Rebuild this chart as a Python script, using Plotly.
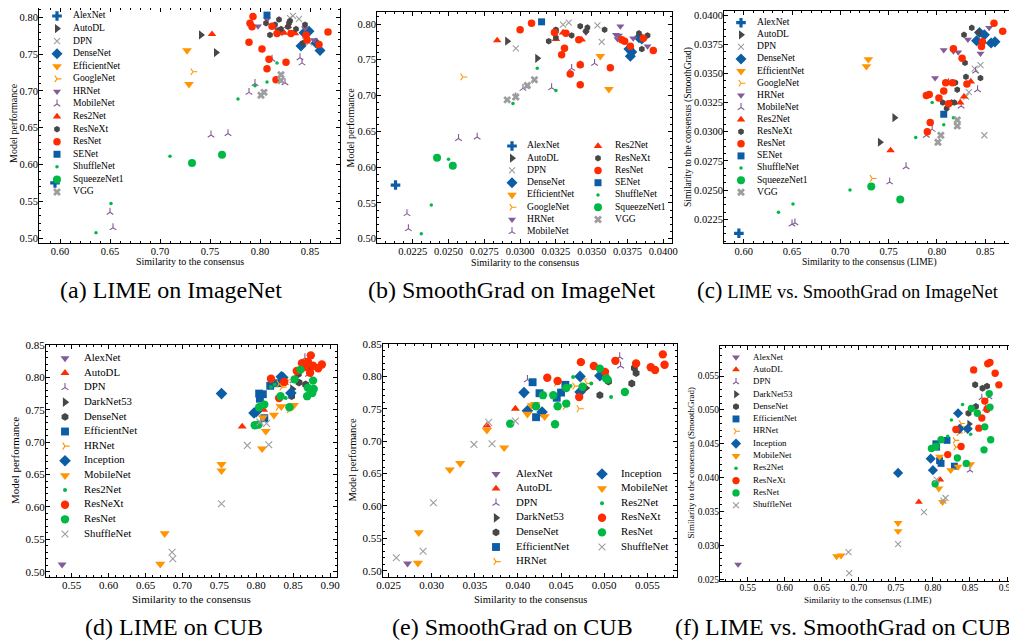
import plotly.graph_objects as go

PAGE_W, PAGE_H = 1017, 642
OFF = 8                      # the page body margin that the browser adds
W, H = PAGE_W - OFF, PAGE_H - OFF
FONT = "Liberation Serif"

BLUE = "#0C5DA5"; GREEN = "#00B945"; ORANGE = "#FF9500"; RED = "#FF2C00"
PURPLE = "#845B97"; DARK = "#474747"; GRAY = "#9E9E9E"

# ---------------- ImageNet data ----------------
IN_FAMILIES = ["AlexNet", "AutoDL", "DPN", "DenseNet", "EfficientNet", "GoogleNet", "HRNet",
               "MobileNet", "Res2Net", "ResNeXt", "ResNet", "SENet", "ShuffleNet",
               "SqueezeNet1", "VGG"]

IN_LIME = {
    "AlexNet": [0.595],
    "AutoDL": [0.741, 0.756],
    "DPN": [0.830, 0.833, 0.839, 0.845, 0.849],
    "DenseNet": [0.841, 0.844, 0.849, 0.856, 0.860],
    "EfficientNet": [0.727, 0.729],
    "GoogleNet": [0.733],
    "HRNet": [0.798, 0.807, 0.817, 0.822, 0.832, 0.845, 0.854],
    "MobileNet": [0.650, 0.653, 0.751, 0.768, 0.789, 0.795, 0.812, 0.825, 0.840, 0.842],
    "Res2Net": [0.752, 0.824, 0.828, 0.835],
    "ResNeXt": [0.806, 0.810, 0.815, 0.818, 0.819, 0.821, 0.828, 0.829, 0.830, 0.836, 0.843, 0.845],
    "ResNet": [0.789, 0.790, 0.792, 0.793, 0.802, 0.807, 0.809, 0.812, 0.816, 0.817, 0.826,
               0.831, 0.846, 0.847, 0.859, 0.868],
    "SENet": [0.807],
    "ShuffleNet": [0.636, 0.651, 0.710, 0.778, 0.795, 0.807, 0.817],
    "SqueezeNet1": [0.732, 0.762],
    "VGG": [0.801, 0.804, 0.821, 0.821],
}
IN_SG = {
    "AlexNet": [0.0213],
    "AutoDL": [0.0291, 0.0312],
    "DPN": [0.0330, 0.0334, 0.0354, 0.0357, 0.0297],
    "DenseNet": [0.0378, 0.0385, 0.0383, 0.0376, 0.0377],
    "EfficientNet": [0.0356, 0.0362],
    "GoogleNet": [0.0260],
    "HRNet": [0.0346, 0.0370, 0.0369, 0.0368, 0.0379, 0.0367, 0.0389],
    "MobileNet": [0.0221, 0.0222, 0.0257, 0.0270, 0.0297, 0.0302, 0.0342, 0.0322, 0.0352, 0.0336],
    "Res2Net": [0.0284, 0.0325, 0.0330, 0.0343],
    "ResNeXt": [0.0325, 0.0320, 0.0325, 0.0325, 0.0342, 0.0336, 0.0383, 0.0359, 0.0347, 0.0389,
                0.0385, 0.0346],
    "ResNet": [0.0331, 0.0300, 0.0332, 0.0308, 0.0329, 0.0335, 0.0342, 0.0324, 0.0342, 0.0371,
               0.0363, 0.0341, 0.0373, 0.0377, 0.0393, 0.0386],
    "SENet": [0.0315],
    "ShuffleNet": [0.0231, 0.0238, 0.0250, 0.0295, 0.0325, 0.0306, 0.0312],
    "SqueezeNet1": [0.0253, 0.0242],
    "VGG": [0.0291, 0.0297, 0.0305, 0.0310],
}
IN_PERF = {
    "AlexNet": [0.575],
    "AutoDL": [0.776, 0.752],
    "DPN": [0.799, 0.802, 0.798, 0.775, 0.766],
    "DenseNet": [0.761, 0.779, 0.781, 0.765, 0.755],
    "EfficientNet": [0.755, 0.709],
    "GoogleNet": [0.726],
    "HRNet": [0.788, 0.797, 0.784, 0.779, 0.780, 0.785, 0.769],
    "MobileNet": [0.535, 0.514, 0.640, 0.642, 0.698, 0.710, 0.743, 0.711, 0.745, 0.738],
    "Res2Net": [0.777, 0.779, 0.788, 0.778],
    "ResNeXt": [0.792, 0.776, 0.790, 0.781, 0.797, 0.784, 0.787, 0.792, 0.795, 0.784, 0.765, 0.790],
    "ResNet": [0.766, 0.792, 0.787, 0.801, 0.757, 0.730, 0.743, 0.788, 0.715, 0.778, 0.739,
               0.778, 0.776, 0.769, 0.763, 0.780],
    "SENet": [0.803],
    "ShuffleNet": [0.507, 0.547, 0.611, 0.689, 0.707, 0.712, 0.738],
    "SqueezeNet1": [0.602, 0.613],
    "VGG": [0.694, 0.698, 0.714, 0.722],
}

# ---------------- CUB data ----------------
CUB_FAMILIES = ["AlexNet", "AutoDL", "DPN", "DarkNet53", "DenseNet", "EfficientNet", "HRNet",
                "Inception", "MobileNet", "Res2Net", "ResNeXt", "ResNet", "ShuffleNet"]

CUB_LIME = {
    "AlexNet": [0.537],
    "AutoDL": [0.781, 0.810],
    "DPN": [0.850, 0.866, 0.871, 0.876],
    "DarkNet53": [0.849],
    "DenseNet": [0.848, 0.857, 0.858, 0.867, 0.873],
    "EfficientNet": [0.804, 0.805, 0.809, 0.811, 0.819, 0.829],
    "HRNet": [0.830, 0.831, 0.835, 0.838, 0.840, 0.845],
    "Inception": [0.753, 0.797, 0.800, 0.834, 0.836, 0.847],
    "MobileNet": [0.670, 0.676, 0.753, 0.753, 0.808, 0.809, 0.813, 0.824, 0.834, 0.851],
    "Res2Net": [0.820, 0.825, 0.840, 0.851],
    "ResNeXt": [0.820, 0.831, 0.838, 0.855, 0.862, 0.866, 0.870, 0.873, 0.874, 0.877, 0.884, 0.889],
    "ResNet": [0.798, 0.803, 0.804, 0.811, 0.833, 0.845, 0.852, 0.860, 0.869, 0.870, 0.876,
               0.877, 0.878],
    "ShuffleNet": [0.686, 0.687, 0.753, 0.788, 0.805, 0.814, 0.817],
}
CUB_SG = {
    "AlexNet": [0.0272],
    "AutoDL": [0.0364, 0.0397],
    "DPN": [0.0411, 0.0518, 0.0502, 0.0519],
    "DarkNet53": [0.0479],
    "DenseNet": [0.0495, 0.0537, 0.0505, 0.0532, 0.0535],
    "EfficientNet": [0.0450, 0.0445, 0.0425, 0.0421, 0.0455, 0.0417],
    "HRNet": [0.0455, 0.0445, 0.0466, 0.0480, 0.0475, 0.0471],
    "Inception": [0.0407, 0.0428, 0.0411, 0.0495, 0.0472, 0.0472],
    "MobileNet": [0.0284, 0.0285, 0.0333, 0.0321, 0.0384, 0.0431, 0.0364, 0.0411, 0.0416, 0.0420],
    "Res2Net": [0.0461, 0.0485, 0.0508, 0.0464],
    "ResNeXt": [0.0434, 0.0471, 0.0446, 0.0559, 0.0473, 0.0488, 0.0513, 0.0501, 0.0568, 0.0570,
                0.0554, 0.0537],
    "ResNet": [0.0443, 0.0391, 0.0446, 0.0456, 0.0429, 0.0421, 0.0502, 0.0495, 0.0441, 0.0475,
               0.0524, 0.0504, 0.0456],
    "ShuffleNet": [0.0290, 0.0259, 0.0302, 0.0349, 0.0397, 0.0366, 0.0370],
}
CUB_PERF = {
    "AlexNet": [0.511],
    "AutoDL": [0.724, 0.750],
    "DPN": [0.795, 0.830, 0.805, 0.816],
    "DarkNet53": [0.782],
    "DenseNet": [0.771, 0.805, 0.792, 0.789, 0.813],
    "EfficientNet": [0.775, 0.767, 0.774, 0.737, 0.787, 0.791],
    "HRNet": [0.754, 0.790, 0.785, 0.789, 0.796, 0.750],
    "Inception": [0.775, 0.745, 0.747, 0.801, 0.800, 0.776],
    "MobileNet": [0.512, 0.559, 0.666, 0.656, 0.690, 0.738, 0.717, 0.742, 0.755, 0.757],
    "Res2Net": [0.785, 0.789, 0.768, 0.799],
    "ResNeXt": [0.798, 0.768, 0.793, 0.810, 0.822, 0.816, 0.824, 0.807, 0.834, 0.818, 0.814, 0.820],
    "ResNet": [0.726, 0.727, 0.754, 0.758, 0.771, 0.754, 0.797, 0.812, 0.771, 0.784, 0.776,
               0.795, 0.782],
    "ShuffleNet": [0.530, 0.520, 0.605, 0.695, 0.731, 0.729, 0.696],
}

# ---------------- styles ----------------
IN_STYLE = {
    "AlexNet": (BLUE, "cross", 8),
    "AutoDL": (DARK, "triangle-right", 8),
    "DPN": (GRAY, "x-thin-open", 6),
    "DenseNet": (BLUE, "diamond", 8.5),
    "EfficientNet": (ORANGE, "triangle-down", 8.5),
    "GoogleNet": (ORANGE, "y-right-open", 5.5),
    "HRNet": (PURPLE, "triangle-down", 7),
    "MobileNet": (PURPLE, "y-up-open", 5.5),
    "Res2Net": (RED, "triangle-up", 7.5),
    "ResNeXt": (DARK, "hexagon", 6.5),
    "ResNet": (RED, "circle", 7.5),
    "SENet": (BLUE, "square", 7),
    "ShuffleNet": (GREEN, "circle", 3.5),
    "SqueezeNet1": (GREEN, "circle", 8),
    "VGG": (GRAY, "x", 7),
}
CUB_STYLE = {
    "AlexNet": (PURPLE, "triangle-down", 7.5),
    "AutoDL": (RED, "triangle-up", 7.5),
    "DPN": (PURPLE, "y-up-open", 5.5),
    "DarkNet53": (DARK, "triangle-right", 8),
    "DenseNet": (DARK, "hexagon", 7.5),
    "EfficientNet": (BLUE, "square", 7.5),
    "HRNet": (ORANGE, "y-right-open", 5.5),
    "Inception": (BLUE, "diamond", 8.5),
    "MobileNet": (ORANGE, "triangle-down", 8.5),
    "Res2Net": (GREEN, "circle", 3.8),
    "ResNeXt": (RED, "circle", 8),
    "ResNet": (GREEN, "circle", 8),
    "ShuffleNet": (GRAY, "x-thin-open", 6.5),
}

CAPTIONS = ["(a) LIME on ImageNet", "(b) SmoothGrad on ImageNet",
            "(c) LIME vs. SmoothGrad on ImageNet",
            "(d) LIME on CUB", "(e) SmoothGrad on CUB", "(f) LIME vs. SmoothGrad on CUB"]
XTITLES = ["Similarity to the consensus", "Similarity to the consensus",
           "Similarity to the consensus (LIME)",
           "Similarity to the consensus", "Similarity to the consensus",
           "Similarity to the consensus (LIME)"]
YTITLES = ["Model performance", "Model performance", "Similarity to the consensus (SmoothGrad)",
           "Model performance", "Model performance", "Similarity to the consensus (SmoothGrad)"]

# ---------------- layout specs (page pixels) ----------------
# frame: (left, right) / (top, bottom); cal: two (value, pixel) pairs per axis
PANELS = [
    dict(px=(39, 340), py=(3, 243), xcal=((0.60, 60), (0.85, 310)), ycal=((0.80, 17.3), (0.50, 238)),
         xd=0.05, xm=0.01, xf=".2f", yd=0.05, ym=0.01, yf=".2f", tf=10.5, af=10, lf=9.6, ms=1.0,
         xt_y=262, yt_x=14, cap=(171, 290),
         leg=[(0, 15, 57, 73)], leg_y0=16, leg_step=12.57),
    dict(px=(377, 672), py=(12, 243), xcal=((0.0225, 412.7), (0.0400, 663.3)),
         ycal=((0.80, 24), (0.50, 238.7)),
         xd=0.0025, xm=0.000625, xf=".4f", yd=0.05, ym=0.01, yf=".2f", tf=10.5, af=10, lf=9.6, ms=1.0,
         xt_y=263, yt_x=350, cap=(512, 290),
         leg=[(0, 8, 512, 527), (8, 15, 598, 615)], leg_y0=146, leg_step=12.24),
    dict(px=(724, 1015), py=(11, 243), xcal=((0.60, 743.7), (0.85, 985.3)),
         ycal=((0.0400, 15), (0.0225, 219.3)),
         xd=0.05, xm=0.01, xf=".2f", yd=0.0025, ym=0.000625, yf=".4f", tf=10.5, af=9.5, lf=9.6, ms=1.0,
         xt_y=263, yt_x=689, cap=(848, 290),
         leg=[(0, 15, 741, 757)], leg_y0=22.7, leg_step=12.11),
    dict(px=(46, 337), py=(345, 577), xcal=((0.55, 71.7), (0.90, 330)),
         ycal=((0.85, 345), (0.50, 571.7)),
         xd=0.05, xm=0.01, xf=".2f", yd=0.05, ym=0.01, yf=".2f", tf=11, af=11, lf=10.8, ms=1.05,
         xt_y=599, yt_x=15, cap=(174, 627),
         leg=[(0, 13, 65, 84)], leg_y0=358.3, leg_step=14.64),
    dict(px=(383, 677), py=(344, 577), xcal=((0.030, 431.7), (0.055, 647.3)),
         ycal=((0.85, 344), (0.50, 570.7)),
         xd=0.005, xm=0.001, xf=".3f", yd=0.05, ym=0.01, yf=".2f", tf=11, af=10.5, lf=10.8, ms=1.05,
         xt_y=599, yt_x=352, cap=(512, 627),
         leg=[(0, 7, 496, 516), (7, 13, 602, 621)], leg_y0=474, leg_step=14.6),
    dict(px=(720, 1015), py=(346, 581), xcal=((0.55, 747.7), (0.90, 1007)),
         ycal=((0.055, 376), (0.025, 579.3)),
         xd=0.05, xm=0.01, xf=".2f", yd=0.005, ym=0.001, yf=".3f", tf=9.5, af=9, lf=8.9, ms=0.92,
         xt_y=600, yt_x=690, cap=(843, 627),
         leg=[(0, 13, 736, 753)], leg_y0=357.3, leg_step=12.33),
]

DATASETS = [
    (IN_FAMILIES, IN_STYLE, IN_LIME, IN_PERF),
    (IN_FAMILIES, IN_STYLE, IN_SG, IN_PERF),
    (IN_FAMILIES, IN_STYLE, IN_LIME, IN_SG),
    (CUB_FAMILIES, CUB_STYLE, CUB_LIME, CUB_PERF),
    (CUB_FAMILIES, CUB_STYLE, CUB_SG, CUB_PERF),
    (CUB_FAMILIES, CUB_STYLE, CUB_LIME, CUB_SG),
]


def fx(px):
    return min(max((px - OFF) / W, 0.0), 1.0)


def fy(py):
    return min(max(1 - (py - OFF) / H, 0.0), 1.0)


def cal_range(cal, p0, p1):
    (v1, q1), (v2, q2) = cal
    s = (v2 - v1) / (q2 - q1)
    return [v1 + (p0 - q1) * s, v1 + (p1 - q1) * s]


def marker(color, symbol, size):
    if symbol.endswith("-open"):
        return dict(symbol=symbol, size=size, color=color, line=dict(width=1.1, color=color))
    return dict(symbol=symbol, size=size, color=color, line=dict(width=0))


def axis(domain, rng, dtick, minor, fmt, fsize, anchor, standoff):
    return dict(domain=domain, range=rng, anchor=anchor, dtick=dtick, tick0=0, tickformat=fmt,
                ticks="inside", ticklen=4, tickwidth=0.8, tickcolor="black", mirror="allticks",
                showline=True, linecolor="black", linewidth=1, showgrid=False, zeroline=False,
                automargin=False, ticklabelstandoff=standoff,
                tickfont=dict(family=FONT, size=fsize, color="black"),
                minor=dict(ticks="inside", ticklen=2, dtick=minor, tick0=0, tickcolor="black",
                           tickwidth=0.6, showgrid=False),
                fixedrange=True)


fig = go.Figure()
layout = dict(width=W, height=H, autosize=False,
              margin=dict(l=0, r=0, t=0, b=0, pad=0, autoexpand=False), showlegend=False,
              plot_bgcolor="rgba(0,0,0,0)", paper_bgcolor="white")
annotations = []

for i, (spec, (fams, style, xs, ys)) in enumerate(zip(PANELS, DATASETS)):
    k = i + 1
    left, right = spec["px"]
    top, bottom = max(spec["py"][0], OFF), spec["py"][1]
    xd = [fx(left), fx(right)]
    yd = [fy(bottom), fy(top)]
    xr = cal_range(spec["xcal"], left, right)
    yr = cal_range(spec["ycal"], bottom, top)
    layout[f"xaxis{k}"] = axis(xd, xr, spec["xd"], spec["xm"], spec["xf"], spec["tf"], f"y{k}", -2)
    layout[f"yaxis{k}"] = axis(yd, yr, spec["yd"], spec["ym"], spec["yf"], spec["tf"], f"x{k}", -2)
    for fam in fams:
        c, sym, sz = style[fam]
        fig.add_trace(go.Scatter(x=xs[fam], y=ys[fam], mode="markers", name=fam,
                                 marker=marker(c, sym, sz * spec["ms"]),
                                 xaxis=f"x{k}", yaxis=f"y{k}", hoverinfo="name+x+y",
                                 cliponaxis=False))
    # legend drawn on an invisible overlay axis measured in page pixels
    kl = k + 6
    layout[f"xaxis{kl}"] = dict(domain=[0, 1], range=[OFF, PAGE_W], visible=False, fixedrange=True,
                                anchor=f"y{kl}")
    layout[f"yaxis{kl}"] = dict(domain=[0, 1], range=[PAGE_H, OFF], visible=False, fixedrange=True,
                                anchor=f"x{kl}")
    for (a, b, mx, tx) in spec["leg"]:
        for j, fam in enumerate(fams[a:b]):
            c, sym, sz = style[fam]
            yy = spec["leg_y0"] + j * spec["leg_step"]
            fig.add_trace(go.Scatter(x=[mx], y=[yy], mode="markers",
                                     marker=marker(c, sym, sz * spec["ms"]),
                                     xaxis=f"x{kl}", yaxis=f"y{kl}", hoverinfo="skip",
                                     cliponaxis=False))
            fig.add_trace(go.Scatter(x=[tx], y=[yy], mode="text", text=[fam],
                                     textposition="middle right",
                                     textfont=dict(family=FONT, size=spec["lf"], color="black"),
                                     xaxis=f"x{kl}", yaxis=f"y{kl}", hoverinfo="skip",
                                     cliponaxis=False))
    # axis titles
    annotations.append(dict(text=XTITLES[i], x=fx((left + right) / 2),
                            y=fy(spec["xt_y"]), xref="paper", yref="paper", showarrow=False,
                            xanchor="center", yanchor="middle",
                            font=dict(family=FONT, size=spec["af"], color="black")))
    annotations.append(dict(text=YTITLES[i], x=fx(spec["yt_x"]),
                            y=fy((spec["py"][0] + spec["py"][1]) / 2), xref="paper", yref="paper",
                            showarrow=False, textangle=-90, xanchor="center", yanchor="middle",
                            font=dict(family=FONT, size=spec["af"], color="black")))
    # caption
    cap = CAPTIONS[i]
    if i == 2:
        cap = "<span style='font-size:23px'>(c)</span> LIME vs. SmoothGrad on ImageNet"
        csize = 18.5
    else:
        csize = 24
    annotations.append(dict(text=cap, x=fx(spec["cap"][0]), y=fy(spec["cap"][1]),
                            xref="paper", yref="paper", showarrow=False,
                            xanchor="center", yanchor="middle",
                            font=dict(family=FONT, size=csize, color="black")))

layout["annotations"] = annotations
fig.update_layout(**layout)
fig.write_html("out.html")
